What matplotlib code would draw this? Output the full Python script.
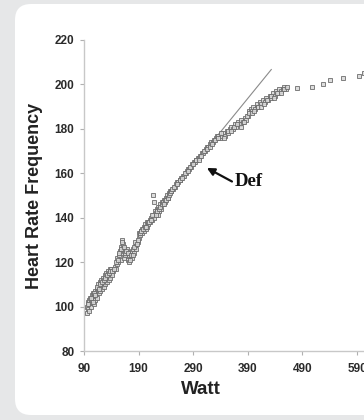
import matplotlib
matplotlib.use("Agg")
import matplotlib.pyplot as plt
from matplotlib.patches import FancyBboxPatch

# ---- data ----
watt = [95, 96, 97, 98, 99, 100, 101, 102, 103, 104, 105, 106, 107, 108, 109, 110,
        111, 112, 113, 114, 115, 116, 117, 118, 119, 120, 121, 122, 123, 124, 125,
        126, 127, 128, 129, 130, 131, 132, 133, 134, 135, 136, 137, 138, 139, 140,
        142, 144, 146, 148, 150, 151, 153, 155, 156, 157, 158, 159, 160, 161, 162,
        163, 164, 166, 168, 170, 172, 173, 175, 177, 178, 180, 182, 183, 185, 186, 188,
        190, 191, 193, 194, 196, 197, 199, 200, 202, 203, 205, 206, 208, 210, 211,
        213, 214, 216, 217, 218, 219, 220, 222, 223, 225, 226, 228, 229, 231, 232,
        234, 236, 238, 240, 242, 244, 246, 248,
        250, 253, 256, 258, 261, 263, 266, 268, 271, 273, 276, 278, 281, 283, 286,
        288, 291, 293, 296, 298, 301, 303, 306, 308, 311, 313, 316, 318, 321, 323,
        326, 328, 331, 333, 336,
        339, 342, 345, 348, 351, 354, 357, 360, 363, 366, 369, 372, 375, 378, 381,
        384, 387, 390, 393, 395, 398, 400, 403, 406, 409, 412, 415, 418, 421, 424,
        427, 430, 433, 436, 439, 442, 445, 448, 451, 454, 457, 460,
        480, 508, 527, 541, 565, 593, 603]
heart_rate = [97, 100, 102, 99, 103, 101, 104, 100, 102, 105, 103, 106, 104, 101, 105, 107,
              103, 106, 108, 104, 107, 110, 106, 108, 111, 107, 109, 112, 108, 110, 113,
              109, 111, 114, 110, 112, 115, 111, 113, 116, 112, 114, 117, 113, 115, 117,
              114, 116, 118, 117, 119, 122, 120, 123, 125, 121, 127, 130, 124, 126, 128,
              122, 125, 123, 126, 121, 123, 120, 124, 122, 125, 126, 124, 127, 128, 126, 129,
              131, 133, 132, 134, 135, 133, 136, 134, 137, 135, 138, 136, 137, 139, 138,
              140, 139, 141, 150, 147, 140, 143, 142, 144, 141, 145, 143, 146, 144, 147,
              146, 148, 147, 149, 150, 149, 151, 152,
              152, 153, 154, 155, 156, 156, 157, 158, 159, 159, 160, 161, 162, 162, 163,
              164, 165, 165, 166, 167, 167, 168, 169, 169, 170, 171, 172, 172, 173, 174,
              174, 175, 176, 177, 177,
              176, 177, 178, 177, 179, 178, 180, 181, 180, 182, 181, 183, 182, 184, 183,
              185, 184, 186, 188, 189, 188, 190, 189, 191, 190, 192, 191, 193, 192, 194,
              193, 195, 194, 196, 195, 197, 196, 198, 197, 198, 199, 198,
              198.5, 199, 200, 202, 203, 204, 205]

# second pass of readings in the dense part of the cloud
watt_extra = [98, 100, 103, 106, 108, 111, 114, 117, 120, 123, 126, 129, 132, 135, 138,
              141, 145, 149, 152, 154, 157, 160, 163, 165, 167, 171, 174, 176, 179, 181,
              184, 187, 189, 192, 195, 198, 201, 204, 207, 209, 212, 215, 221, 224, 227,
              230, 233, 235, 237, 239, 241, 243, 245, 247, 249, 252, 255, 260, 265, 270,
              275, 280, 285, 290, 295, 300, 305, 310, 315, 320, 325, 330, 335,
              341, 347, 353, 359, 365, 371, 377, 383, 389, 392, 397, 402, 408, 414,
              420, 426, 432, 438, 444, 450, 456, 462]
hr_extra = [101, 98, 104, 102, 106, 105, 109, 108, 110, 111, 112, 113, 114, 115, 116,
            116, 117, 120, 121, 124, 126, 129, 127, 124, 125, 124, 121, 123, 123, 127,
            129, 128, 130, 133, 134, 135, 136, 136, 138, 138, 139, 141, 141, 143, 144,
            145, 146, 147, 146, 148, 148, 149, 150, 151, 152, 153, 154, 155, 157, 158,
            160, 161, 163, 164, 166, 166, 168, 170, 171, 172, 173, 175, 176,
            178, 176, 179, 179, 181, 182, 181, 183, 186, 187, 187, 188, 190, 190,
            191, 193, 195, 194, 196, 196, 198, 199]

trend_watt = [230, 433]
trend_hr = [145.4, 206.7]

x_ticks = [90, 190, 290, 390, 490, 590]
y_ticks = [80, 100, 120, 140, 160, 180, 200, 220]

W, H = 364, 420
fig = plt.figure(figsize=(W / 100, H / 100), dpi=100)
fig.patch.set_facecolor("#e6e7e8")

panel = FancyBboxPatch((15, 5), 420, 411, boxstyle="round,pad=0,rounding_size=16",
                       transform=None, facecolor="white", edgecolor="none", zorder=-10)
fig.patches.append(panel)

ax = fig.add_axes([84 / W, 1 - 351 / H, (600 * 0.546) / W, (351 - 40) / H])
ax.set_facecolor("none")
ax.set_xlim(90, 690)
ax.set_ylim(80, 220)

ax.plot(trend_watt, trend_hr, color="#8a8a8a", lw=0.8, zorder=2)
marker_style = dict(linestyle="none", marker="s", markersize=3.4,
                    markerfacecolor="#d8d8d8", markeredgecolor="#6a6a6a",
                    markeredgewidth=0.7, alpha=0.85, zorder=3, clip_on=False)
ax.plot(watt, heart_rate, **marker_style)
ax.plot(watt_extra, hr_extra, **marker_style)

# arrow and label
ax.annotate("", xy=(315, 162.4), xytext=(361, 156.3),
            arrowprops=dict(arrowstyle="-|>", color="#111111", lw=1.6,
                            mutation_scale=11, shrinkA=0, shrinkB=0))
ax.text(392, 156.5, "Def", fontsize=13.5, fontweight="bold", family="Liberation Serif",
        ha="center", va="center", color="#111111")

for s in ["top", "right"]:
    ax.spines[s].set_visible(False)
for s in ["left", "bottom"]:
    ax.spines[s].set_color("#c8c8c8")
    ax.spines[s].set_linewidth(1.0)

ax.set_xticks(x_ticks)
ax.set_yticks(y_ticks)
ax.tick_params(axis="both", direction="out", length=3, width=0.8, color="#b0b0b0",
               labelsize=8.5, labelcolor="#2a2a2a")
ax.tick_params(axis="y", pad=4)
ax.tick_params(axis="x", pad=6)
for lab in ax.get_xticklabels() + ax.get_yticklabels():
    lab.set_fontweight("bold")
    lab.set_family("Liberation Sans")

fig.text(35 / W, 1 - 196 / H, "Heart Rate Frequency", rotation=90, ha="center", va="center",
         fontsize=13, fontweight="bold", family="Liberation Sans", color="#222222")
fig.text(201 / W, 1 - 390 / H, "Watt", ha="center", va="center",
         fontsize=13.5, fontweight="bold", family="Liberation Sans", color="#222222")

fig.savefig("out.png", dpi=100, facecolor=fig.get_facecolor())
